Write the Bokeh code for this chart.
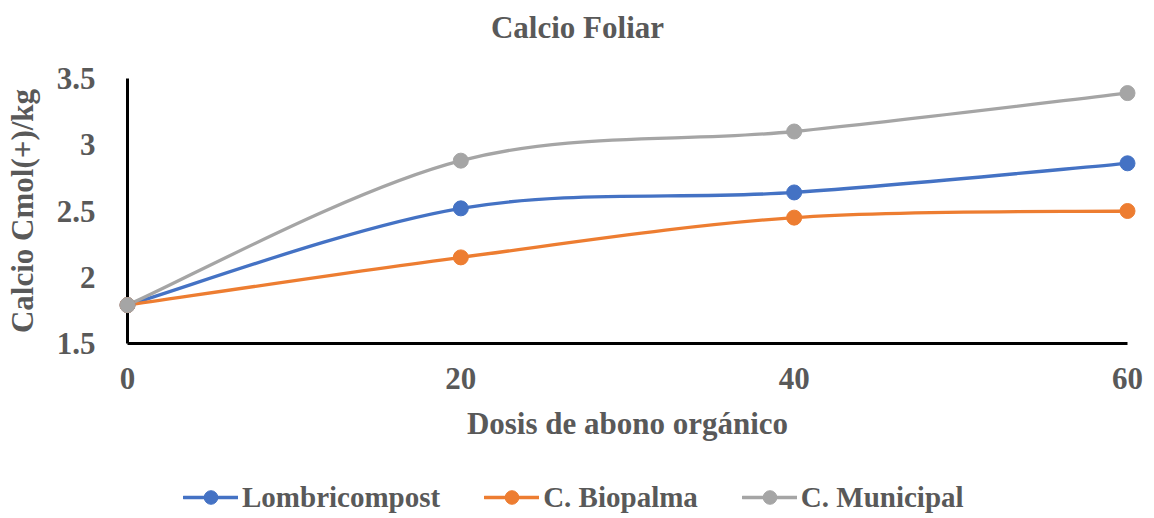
from bokeh.plotting import figure
from bokeh.models import (Range1d, Legend, LegendItem, Label, FixedTicker,
                          ColumnDataSource)
from bokeh.embed import file_html
from bokeh.resources import INLINE

# Foliar calcium (Cmol(+)/kg) by organic fertiliser dose
dosis = [0, 20, 40, 60]
lombricompost = [1.79, 2.52, 2.64, 2.86]
biopalma = [1.79, 2.15, 2.45, 2.50]
municipal = [1.79, 2.88, 3.10, 3.39]

series_names = ["Lombricompost", "C. Biopalma", "C. Municipal"]
series_values = [lombricompost, biopalma, municipal]
series_colors = ["#4472C4", "#ED7D31", "#A5A5A5"]

x_ticks = [0, 20, 40, 60]
y_ticks = [1.5, 2, 2.5, 3, 3.5]
y_tick_labels = ["1.5", "2", "2.5", "3", "3.5"]

FONT = "Liberation Serif"
TEXT = "#595959"

# canvas size and where the plotting area sits inside it (pixels)
W, H = 1154, 518
LEFT, RIGHT, TOP, BOTTOM = 127, 1127, 78, 343
X0, X1 = 0, 60
Y0, Y1 = 1.5, 3.5


def smooth_segments(xs, ys):
    """Cubic Bezier pieces (Catmull-Rom tangents) through the given points."""
    n = len(xs)
    seg = {k: [] for k in ("x0", "y0", "x1", "y1", "cx0", "cy0", "cx1", "cy1")}
    for i in range(n - 1):
        a = max(i - 1, 0)
        b = min(i + 2, n - 1)
        seg["x0"].append(xs[i])
        seg["y0"].append(ys[i])
        seg["x1"].append(xs[i + 1])
        seg["y1"].append(ys[i + 1])
        seg["cx0"].append(xs[i] + (xs[i + 1] - xs[a]) / 6)
        seg["cy0"].append(ys[i] + (ys[i + 1] - ys[a]) / 6)
        seg["cx1"].append(xs[i + 1] - (xs[b] - xs[i]) / 6)
        seg["cy1"].append(ys[i + 1] - (ys[b] - ys[i]) / 6)
    return seg


# the frame covers the whole canvas; ranges are widened so that the
# data window [X0, X1] x [Y0, Y1] lands on the plotting area above
xpp = (X1 - X0) / (RIGHT - LEFT)
ypp = (Y1 - Y0) / (BOTTOM - TOP)
x_range = Range1d(X0 - LEFT * xpp, X1 + (W - RIGHT) * xpp)
y_range = Range1d(Y0 - (H - BOTTOM) * ypp, Y1 + TOP * ypp)

p = figure(width=W, height=H, output_backend="svg", toolbar_location=None,
           x_range=x_range, y_range=y_range,
           min_border=0, min_border_left=0, min_border_right=0,
           min_border_top=0, min_border_bottom=0)
p.outline_line_color = None
p.grid.visible = False
p.background_fill_color = "white"
p.border_fill_color = "white"

legend_items = []
for name, vals, color in zip(series_names, series_values, series_colors):
    curve = p.bezier(source=ColumnDataSource(smooth_segments(dosis, vals)),
                     x0="x0", y0="y0", x1="x1", y1="y1",
                     cx0="cx0", cy0="cy0", cx1="cx1", cy1="cy1",
                     line_color=color, line_width=3.3, line_cap="round",
                     level="annotation")
    dots = p.scatter(dosis, vals, size=15, marker="circle",
                     fill_color=color, line_color=color, level="overlay")
    legend_items.append(LegendItem(label=name, renderers=[curve, dots]))

for ax in (p.xaxis[0], p.yaxis[0]):
    ax.axis_line_color = "black"
    ax.axis_line_width = 3
    ax.major_tick_line_color = None
    ax.minor_tick_line_color = None
    ax.major_label_text_font = FONT
    ax.major_label_text_font_style = "bold"
    ax.major_label_text_font_size = "31px"
    ax.major_label_text_color = TEXT
    ax.axis_label_text_font = FONT
    ax.axis_label_text_font_style = "bold"
    ax.axis_label_text_font_size = "31px"
    ax.axis_label_text_color = TEXT

p.xaxis.fixed_location = Y0
p.yaxis.fixed_location = X0
p.xaxis.bounds = (X0, X1)
p.yaxis.bounds = (Y0, Y1)
p.xaxis.ticker = FixedTicker(ticks=x_ticks)
p.yaxis.ticker = FixedTicker(ticks=y_ticks)
p.yaxis.major_label_overrides = dict(zip(y_ticks, y_tick_labels))
p.xaxis.major_label_standoff = 18
p.yaxis.major_label_standoff = 26
p.xaxis.axis_label = "Dosis de abono orgánico"
p.yaxis.axis_label = "Calcio Cmol(+)/kg"
p.xaxis.axis_label_standoff = 14
p.yaxis.axis_label_standoff = 14

legend = Legend(items=legend_items, orientation="horizontal",
                location=(183, 4), padding=0, margin=0, spacing=44,
                glyph_width=55, glyph_height=34, label_standoff=4,
                border_line_color=None, background_fill_alpha=0,
                label_text_font=FONT, label_text_font_style="bold",
                label_text_font_size="29px", label_text_color=TEXT)
p.add_layout(legend, "center")

p.add_layout(Label(x=W / 2, y=H - 27, x_units="screen", y_units="screen",
                   text="Calcio Foliar", text_align="center",
                   text_baseline="middle", text_font=FONT,
                   text_font_style="bold", text_font_size="31px",
                   text_color=TEXT))

open("out.html", "w").write(file_html(p, INLINE))
